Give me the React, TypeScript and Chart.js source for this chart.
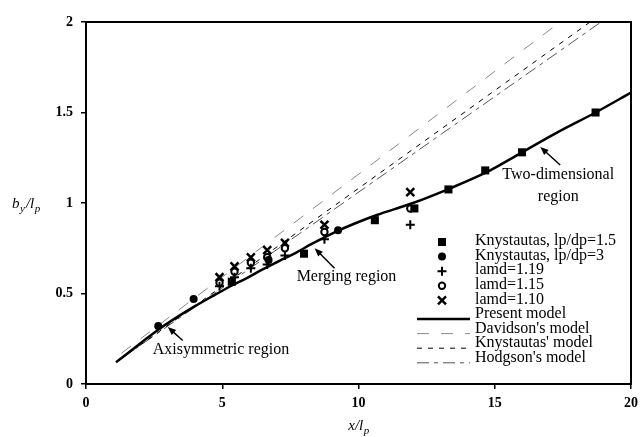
import React, { useEffect, useRef } from 'react';
import { Chart, registerables } from 'chart.js';

Chart.register(...registerables);

// ---------- data ----------
const xTicks = [0, 5, 10, 15, 20];
const yTicks = [0, 0.5, 1, 1.5, 2];

const sq15X = [5.35, 8.0, 10.6, 12.05, 13.3, 14.65, 16.0, 18.7];
const sq15Y = [0.565, 0.72, 0.905, 0.97, 1.075, 1.18, 1.28, 1.5];

const ci3X = [2.65, 3.95, 6.7, 9.25];
const ci3Y = [0.32, 0.47, 0.685, 0.85];

const lamdX = [4.9, 5.45, 6.05, 6.65, 7.3, 8.75, 11.9];
const lamd119Y = [0.54, 0.59, 0.64, 0.66, 0.71, 0.8, 0.88];
const lamd115Y = [0.56, 0.62, 0.67, 0.7, 0.75, 0.84, 0.97];
const lamd110Y = [0.59, 0.65, 0.7, 0.74, 0.78, 0.88, 1.06];

const presentX = [1.1, 2.0, 2.65, 3.4, 4.0, 4.7, 5.3, 5.9, 6.5, 7.1, 7.7, 8.3, 9.3, 10.0, 10.7, 11.3, 12.0, 13.3, 14.7, 16.0, 17.3, 18.7, 20.0];
const presentY = [0.12, 0.225, 0.3, 0.375, 0.43, 0.49, 0.54, 0.585, 0.635, 0.68, 0.725, 0.775, 0.85, 0.895, 0.935, 0.965, 1.0, 1.077, 1.17, 1.28, 1.39, 1.5, 1.61];

const davidsonX = [1.3, 17.4];
const davidsonY = [0.17, 2.0];
const knystModelX = [1.3, 18.5];
const knystModelY = [0.14, 2.0];
const hodgsonX = [1.3, 18.9];
const hodgsonY = [0.14, 2.0];

const legendLabels = [
  'Knystautas, lp/dp=1.5',
  'Knystautas, lp/dp=3',
  'lamd=1.19',
  'lamd=1.15',
  'lamd=1.10',
  'Present model',
  "Davidson's model",
  "Knystautas' model",
  "Hodgson's model",
];

// annotations (data coordinates)
const annotations = [
  { lines: ['Axisymmetric region'], x: 2.45, y: 0.19, align: 'left', tail: [3.55, 0.24], head: [3.0, 0.315] },
  { lines: ['Merging region'], x: 7.73, y: 0.59, align: 'left', tail: [9.12, 0.64], head: [8.39, 0.75] },
  { lines: ['Two-dimensional', 'region'], x: 17.33, y: 1.155, align: 'center', tail: [17.4, 1.21], head: [16.67, 1.31] },
];

const pts = (xs: number[], ys: number[]) => xs.map((x, i) => ({ x, y: ys[i] }));

const SERIF = "'Liberation Serif', 'Times New Roman', serif";

function drawMarker(ctx: CanvasRenderingContext2D, kind: string, x: number, y: number) {
  ctx.save();
  ctx.fillStyle = '#000';
  ctx.strokeStyle = '#000';
  ctx.setLineDash([]);
  if (kind === 'square') {
    ctx.fillRect(x - 4, y - 4, 8, 8);
  } else if (kind === 'circle') {
    ctx.beginPath();
    ctx.arc(x, y, 4, 0, Math.PI * 2);
    ctx.fill();
  } else if (kind === 'plus') {
    ctx.lineWidth = 2;
    ctx.beginPath();
    ctx.moveTo(x - 4.5, y);
    ctx.lineTo(x + 4.5, y);
    ctx.moveTo(x, y - 4.5);
    ctx.lineTo(x, y + 4.5);
    ctx.stroke();
  } else if (kind === 'open') {
    ctx.lineWidth = 2;
    ctx.fillStyle = '#fff';
    ctx.beginPath();
    ctx.arc(x, y, 3.2, 0, Math.PI * 2);
    ctx.fill();
    ctx.stroke();
  } else if (kind === 'x') {
    ctx.lineWidth = 2.5;
    ctx.beginPath();
    ctx.moveTo(x - 4, y - 4);
    ctx.lineTo(x + 4, y + 4);
    ctx.moveTo(x + 4, y - 4);
    ctx.lineTo(x - 4, y + 4);
    ctx.stroke();
  }
  ctx.restore();
}

const legendKinds = [
  { marker: 'square' },
  { marker: 'circle' },
  { marker: 'plus' },
  { marker: 'open' },
  { marker: 'x' },
  { line: { color: '#000', width: 2.5, dash: [] as number[] } },
  { line: { color: '#888', width: 1, dash: [12, 12] } },
  { line: { color: '#000', width: 1, dash: [5, 6] } },
  { line: { color: '#555', width: 1, dash: [12, 5, 4, 5] } },
];

const overlayPlugin = {
  id: 'overlay',
  afterDraw(chart: any) {
    const { ctx, chartArea: a, scales } = chart;
    const xs = scales.x;
    const ys = scales.y;
    ctx.save();
    // frame
    ctx.strokeStyle = '#000';
    ctx.lineWidth = 2;
    ctx.setLineDash([]);
    ctx.strokeRect(a.left, a.top, a.right - a.left, a.bottom - a.top);

    const drawSub = (parts: [string, boolean][], x0: number, base: number) => {
      let x = x0;
      ctx.textBaseline = 'alphabetic';
      ctx.textAlign = 'left';
      for (const [t, sub] of parts) {
        ctx.font = sub ? `italic 11px ${SERIF}` : `italic 15px ${SERIF}`;
        ctx.fillStyle = '#000';
        ctx.fillText(t, x, sub ? base + 4 : base);
        x += ctx.measureText(t).width + (sub ? 1 : 0.5);
      }
    };
    // y-axis title b_y/l_p
    drawSub([['b', false], ['y', true], ['/l', false], ['p', true]], 12, ys.getPixelForValue(1) + 5);
    // x-axis title x/l_p
    ctx.font = `italic 15px ${SERIF}`;
    const w1 = ctx.measureText('x/l').width;
    ctx.font = `italic 11px ${SERIF}`;
    const w2 = ctx.measureText('p').width;
    const cx = (a.left + a.right) / 2;
    drawSub([['x/l', false], ['p', true]], cx - (w1 + w2) / 2, 430);

    // annotations
    for (const an of annotations) {
      ctx.font = `16px ${SERIF}`;
      ctx.fillStyle = '#000';
      ctx.textAlign = an.align as CanvasTextAlign;
      ctx.textBaseline = 'middle';
      const px = xs.getPixelForValue(an.x);
      let py = ys.getPixelForValue(an.y);
      for (const line of an.lines) {
        ctx.fillText(line, px, py);
        py += 22;
      }
      const tx = xs.getPixelForValue(an.tail[0]);
      const ty = ys.getPixelForValue(an.tail[1]);
      const hx = xs.getPixelForValue(an.head[0]);
      const hy = ys.getPixelForValue(an.head[1]);
      const ang = Math.atan2(hy - ty, hx - tx);
      ctx.strokeStyle = '#000';
      ctx.lineWidth = 1.5;
      ctx.beginPath();
      ctx.moveTo(tx, ty);
      ctx.lineTo(hx - Math.cos(ang) * 5, hy - Math.sin(ang) * 5);
      ctx.stroke();
      ctx.beginPath();
      ctx.moveTo(hx, hy);
      ctx.lineTo(hx - Math.cos(ang - 0.38) * 9, hy - Math.sin(ang - 0.38) * 9);
      ctx.lineTo(hx - Math.cos(ang + 0.38) * 9, hy - Math.sin(ang + 0.38) * 9);
      ctx.closePath();
      ctx.fill();
    }

    // legend
    const markerX = a.left + 356;
    const lineX0 = a.left + 331;
    const lineX1 = a.left + 384;
    const textX = a.left + 389;
    let rowY = a.top + 219;
    legendLabels.forEach((label, i) => {
      const k: any = legendKinds[i];
      if (k.marker) {
        drawMarker(ctx, k.marker, markerX, rowY + 1);
      } else {
        ctx.save();
        ctx.strokeStyle = k.line.color;
        ctx.lineWidth = k.line.width;
        ctx.setLineDash(k.line.dash);
        ctx.beginPath();
        ctx.moveTo(lineX0, rowY + 5);
        ctx.lineTo(lineX1, rowY + 5);
        ctx.stroke();
        ctx.restore();
      }
      ctx.font = `16px ${SERIF}`;
      ctx.fillStyle = '#000';
      ctx.textAlign = 'left';
      ctx.textBaseline = 'middle';
      ctx.fillText(label, textX, rowY);
      rowY += 14.6;
    });
    ctx.restore();
  },
};

export default function App() {
  const ref = useRef<HTMLCanvasElement | null>(null);
  useEffect(() => {
    if (!ref.current) return;
    const tickFont = { family: SERIF, size: 14, weight: 'bold' as const };
    const fmt = (v: any) => String(Number(v));
    const chart = new Chart(ref.current, {
      type: 'scatter',
      data: {
        datasets: [
          { label: legendLabels[0], data: pts(sq15X, sq15Y), pointStyle: 'rect', pointRadius: 5.7, backgroundColor: '#000', borderColor: '#000', borderWidth: 0 },
          { label: legendLabels[1], data: pts(ci3X, ci3Y), pointStyle: 'circle', pointRadius: 4, backgroundColor: '#000', borderColor: '#000', borderWidth: 0 },
          { label: legendLabels[2], data: pts(lamdX, lamd119Y), pointStyle: 'cross', pointRadius: 4.5, borderColor: '#000', borderWidth: 2 },
          { label: legendLabels[3], data: pts(lamdX, lamd115Y), pointStyle: 'circle', pointRadius: 3.2, backgroundColor: '#fff', borderColor: '#000', borderWidth: 2 },
          { label: legendLabels[4], data: pts(lamdX, lamd110Y), pointStyle: 'crossRot', pointRadius: 5.6, borderColor: '#000', borderWidth: 2.5 },
          { label: legendLabels[5], data: pts(presentX, presentY), showLine: true, pointRadius: 0, borderColor: '#000', borderWidth: 2.5, tension: 0.3, cubicInterpolationMode: 'monotone' },
          { label: legendLabels[6], data: pts(davidsonX, davidsonY), showLine: true, pointRadius: 0, borderColor: '#888', borderWidth: 1, borderDash: [12, 12] },
          { label: legendLabels[7], data: pts(knystModelX, knystModelY), showLine: true, pointRadius: 0, borderColor: '#000', borderWidth: 1, borderDash: [5, 6] },
          { label: legendLabels[8], data: pts(hodgsonX, hodgsonY), showLine: true, pointRadius: 0, borderColor: '#555', borderWidth: 1, borderDash: [12, 5, 4, 5] },
        ] as any,
      },
      options: {
        responsive: false,
        animation: false,
        devicePixelRatio: 1,
        layout: { padding: { left: 0, top: 22, right: 12, bottom: 0 } },
        plugins: { legend: { display: false }, tooltip: { enabled: false } },
        scales: {
          x: {
            type: 'linear',
            min: 0,
            max: 20,
            afterBuildTicks: (s: any) => { s.ticks = xTicks.map((v) => ({ value: v })); },
            afterFit: (s: any) => { s.height = 53; },
            ticks: { font: tickFont, color: '#000', padding: 6, callback: fmt },
            grid: { drawOnChartArea: false, drawTicks: true, tickLength: 5, color: '#000', lineWidth: 1.5 },
            border: { display: true, color: '#000', width: 2 },
          },
          y: {
            type: 'linear',
            min: 0,
            max: 2,
            afterBuildTicks: (s: any) => { s.ticks = yTicks.map((v) => ({ value: v })); },
            afterFit: (s: any) => { s.width = 86; },
            ticks: { font: tickFont, color: '#000', padding: 8, callback: fmt },
            grid: { drawOnChartArea: false, drawTicks: true, tickLength: 5, color: '#000', lineWidth: 1.5 },
            border: { display: true, color: '#000', width: 2 },
          },
        },
      } as any,
      plugins: [overlayPlugin],
    });
    return () => chart.destroy();
  }, []);
  return (
    <div style={{ position: 'absolute', left: 0, top: 0, width: 644, height: 437, background: '#fff' }}>
      <canvas ref={ref} width={644} height={437} style={{ width: 644, height: 437, display: 'block' }} />
    </div>
  );
}
